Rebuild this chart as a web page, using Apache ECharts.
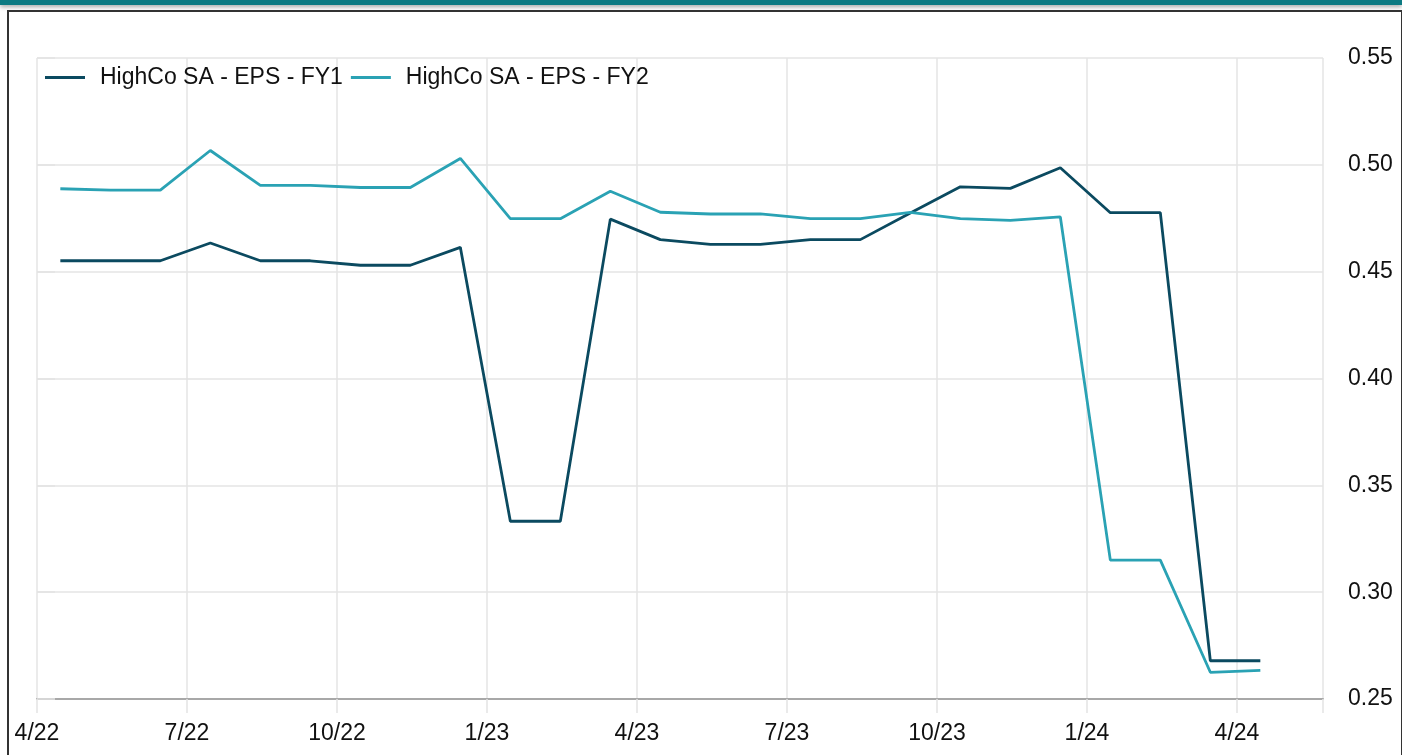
<!DOCTYPE html>
<html>
<head>
<meta charset="utf-8">
<script src="https://cdn.jsdelivr.net/npm/echarts@6/dist/echarts.min.js"></script>
<style>
  html, body { margin: 0; padding: 0; background: #fff; }
  body { width: 1402px; height: 755px; position: relative; overflow: hidden; }
  .topbar { position: absolute; left: 0; top: 0; width: 1402px; height: 5px; background: #0c7a82; box-shadow: 0 2px 4px rgba(0,0,0,0.35); }
  .frame { position: absolute; left: 7px; top: 10px; width: 1392px; height: 760px; border: 2px solid #333; border-bottom: none; }
  #chart { position: absolute; left: 0; top: 0; width: 1402px; height: 755px; }
</style>
</head>
<body>
<div class="topbar"></div>
<div class="frame"></div>
<div id="chart"></div>
<script>
// monthly estimate dates (mid month)
const dates = [
  '2022-04-15', '2022-05-15', '2022-06-15', '2022-07-15', '2022-08-15',
  '2022-09-15', '2022-10-15', '2022-11-15', '2022-12-15', '2023-01-15',
  '2023-02-15', '2023-03-15', '2023-04-15', '2023-05-15', '2023-06-15',
  '2023-07-15', '2023-08-15', '2023-09-15', '2023-10-15', '2023-11-15',
  '2023-12-15', '2024-01-15', '2024-02-15', '2024-03-15', '2024-04-15'
]
const fy1 = [
  0.4551, 0.4551, 0.4551, 0.4634, 0.4551,
  0.4551, 0.4530, 0.4530, 0.4614, 0.3332,
  0.3332, 0.4746, 0.4650, 0.4628, 0.4628,
  0.4650, 0.4650, 0.4775, 0.4897, 0.4890,
  0.4986, 0.4776, 0.4776, 0.2679, 0.2679
]
const fy2 = [
  0.4888, 0.4882, 0.4882, 0.5067, 0.4904,
  0.4904, 0.4894, 0.4894, 0.5030, 0.4748,
  0.4748, 0.4876, 0.4778, 0.4770, 0.4770,
  0.4748, 0.4748, 0.4778, 0.4748, 0.4740,
  0.4756, 0.3150, 0.3150, 0.2625, 0.2634
]
const seriesNames = ['HighCo SA - EPS - FY1', 'HighCo SA - EPS - FY2']
const seriesColors = ['#0b4a60', '#2aa2b4']
const yTicks = [0.25, 0.30, 0.35, 0.40, 0.45, 0.50, 0.55]

// x axis runs in months counted from 1 Apr 2022
const startYear = 2022
const startMonth = 4
function toMonths(s) {
  const p = s.split('-').map(Number)
  return (p[0] - startYear) * 12 + (p[1] - startMonth) + (p[2] - 1) / 30
}
function monthLabel(v) {
  if (Math.abs(v % 3) > 1e-6) return ''
  const total = startMonth - 1 + v
  const m = (total % 12) + 1
  const y = startYear + Math.floor(total / 12)
  return m + '/' + String(y).slice(2)
}

const font = 'Liberation Sans, Arial, sans-serif'
const gridColor = '#e4e4e4'

const chart = echarts.init(document.getElementById('chart'))
chart.setOption({
  backgroundColor: 'transparent',
  animation: false,
  color: seriesColors,
  legend: {
    left: 40,
    top: 61,
    itemWidth: 40,
    itemHeight: 14,
    itemGap: 8,
    icon: 'path://M0,6L40,6L40,9L0,9Z',
    data: seriesNames,
    textStyle: { fontFamily: font, fontSize: 23, color: '#111', lineHeight: 23, padding: [0, 0, 0, 10] }
  },
  grid: { left: 37, right: 79, top: 58, bottom: 56, containLabel: false },
  xAxis: {
    type: 'value',
    min: 0,
    max: 25.72,
    interval: 3,
    axisLine: { show: true, onZero: false, lineStyle: { color: '#a8a8a8', width: 2 } },
    axisTick: { show: true, length: 14, lineStyle: { color: gridColor, width: 1.5 } },
    splitLine: { show: true, lineStyle: { color: gridColor, width: 1.5 } },
    axisLabel: {
      margin: 23,
      fontFamily: font,
      fontSize: 23,
      color: '#111',
      formatter: monthLabel
    }
  },
  yAxis: {
    type: 'value',
    position: 'right',
    min: yTicks[0],
    max: yTicks[yTicks.length - 1],
    interval: 0.05,
    axisLine: { show: false },
    axisTick: { show: true, length: 18, lineStyle: { color: gridColor, width: 1.5 } },
    splitLine: { show: true, lineStyle: { color: gridColor, width: 1.5 } },
    axisLabel: {
      margin: 25,
      fontFamily: font,
      fontSize: 23,
      color: '#111',
      formatter: v => v.toFixed(2)
    }
  },
  series: [fy1, fy2].map((vals, i) => ({
    name: seriesNames[i],
    type: 'line',
    symbol: 'none',
    lineStyle: { width: 2.8, color: seriesColors[i] },
    data: dates.map((d, j) => [toMonths(d), vals[j]])
  }))
})
</script>
</body>
</html>
